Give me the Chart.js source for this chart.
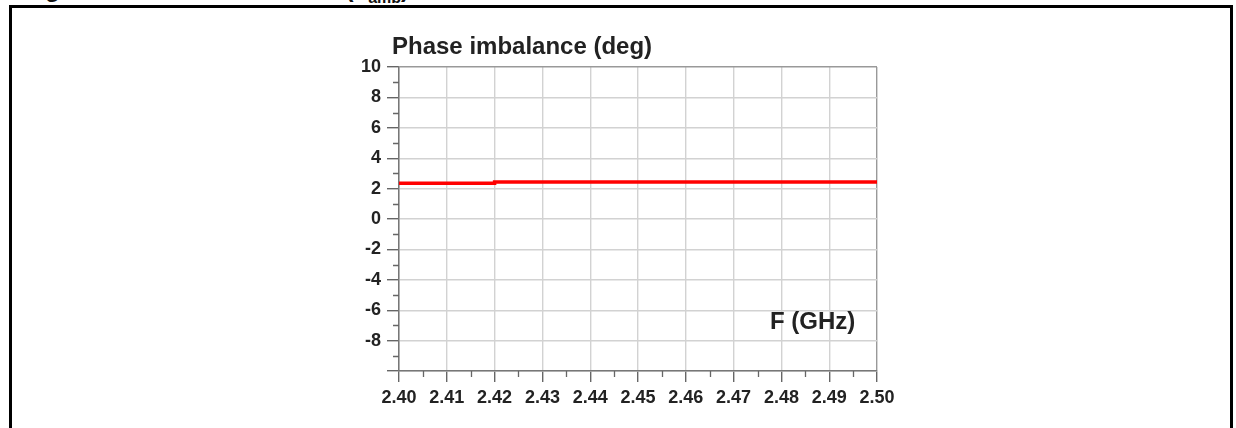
<!DOCTYPE html>
<html lang="en">
<head>
<meta charset="UTF-8">
<title>Phase imbalance</title>
<script src="https://cdn.jsdelivr.net/npm/chart.js"></script>
<style>
  html, body { margin: 0; padding: 0; background: #fff; overflow: hidden; }
  body { width: 1236px; height: 428px; position: relative; font-family: "Liberation Sans", Arial, sans-serif; }
  #frame { position: absolute; left: 9px; top: 5px; width: 1218px; height: 440px; border: 3px solid #000; border-bottom: none; }
  #cap { position: absolute; left: 24px; top: -23px; font-size: 24px; line-height: 1; font-weight: bold; color: #111; white-space: nowrap; }
  #cap sub { font-size: 16px; }
  #wrap { position: absolute; left: 0; top: 0; width: 1236px; height: 428px; }
  .lbl { position: absolute; font-weight: bold; color: #222; white-space: nowrap; line-height: 1; }
  #title { left: 392px; top: 34px; font-size: 24px; }
  #xname { left: 770px; top: 309px; font-size: 24px; }
</style>
</head>
<body>
<div id="cap">Figure 10. Phase imbalance (T<sub>amb</sub>)</div>
<div id="frame"></div>
<div id="wrap"><canvas id="chart"></canvas></div>
<div class="lbl" id="title">Phase imbalance (deg)</div>
<div class="lbl" id="xname">F (GHz)</div>

<script>
  // values
  const freq = [2.40, 2.42, 2.46, 2.50];
  const phase = [2.29, 2.36, 2.44, 2.44];
  const yMinor = [-9, -7, -5, -3, -1, 1, 3, 5, 7, 9];
  const xMinor = [2.405, 2.415, 2.425, 2.435, 2.445, 2.455, 2.465, 2.475, 2.485, 2.495];

  const points = freq.map((f, i) => ({ x: f, y: phase[i] }));

  // short ticks between the labelled ones
  const minorTicks = {
    id: 'minorTicks',
    afterDraw(chart) {
      const c = chart.ctx, xs = chart.scales.x, ys = chart.scales.y;
      c.save();
      c.strokeStyle = '#666';
      c.lineWidth = 1.3;
      c.beginPath();
      yMinor.forEach(v => {
        const py = Math.round(ys.getPixelForValue(v)) + 0.5;
        c.moveTo(xs.left - 6, py);
        c.lineTo(xs.left, py);
      });
      xMinor.forEach(v => {
        const px = Math.round(xs.getPixelForValue(v)) + 0.5;
        c.moveTo(px, ys.bottom);
        c.lineTo(px, ys.bottom + 6);
      });
      c.stroke();
      c.restore();
    }
  };

  const tickFont = { family: '"Liberation Sans", Arial, sans-serif', size: 18, weight: 'bold' };

  new Chart(document.getElementById('chart'), {
    type: 'line',
    data: {
      datasets: [{
        data: points,
        borderColor: '#ff0000',
        borderWidth: 3.5,
        pointRadius: 0,
        stepped: 'after',
        fill: false
      }]
    },
    options: {
      responsive: true,
      maintainAspectRatio: false,
      animation: false,
      layout: { padding: { left: 0, top: 67, right: 359, bottom: 0 } },
      plugins: { legend: { display: false }, tooltip: { enabled: false } },
      scales: {
        x: {
          type: 'linear',
          min: 2.40,
          max: 2.50,
          afterFit(s) { s.height = 57; },
          ticks: {
            stepSize: 0.01,
            color: '#222',
            font: tickFont,
            padding: 5,
            maxRotation: 0,
            autoSkip: false,
            callback: v => v.toFixed(2)
          },
          grid: {
            color: ctx => Math.abs(ctx.tick.value - 2.5) < 1e-6 ? '#999' : '#d2d2d2',
            lineWidth: 1.4,
            tickColor: '#666',
            tickLength: 11
          },
          border: { display: true, color: '#777', width: 1.5 }
        },
        y: {
          min: -10,
          max: 10,
          afterFit(s) { s.width = 399; },
          ticks: {
            stepSize: 2,
            color: '#222',
            font: tickFont,
            padding: 6,
            callback: v => v === -10 ? '' : String(v)
          },
          grid: {
            color: ctx => ctx.tick.value === 10 ? '#999' : '#d2d2d2',
            lineWidth: 1.4,
            tickColor: '#666',
            tickLength: 12
          },
          border: { display: true, color: '#777', width: 1.5 }
        }
      }
    },
    plugins: [minorTicks]
  });
</script>
</body>
</html>
